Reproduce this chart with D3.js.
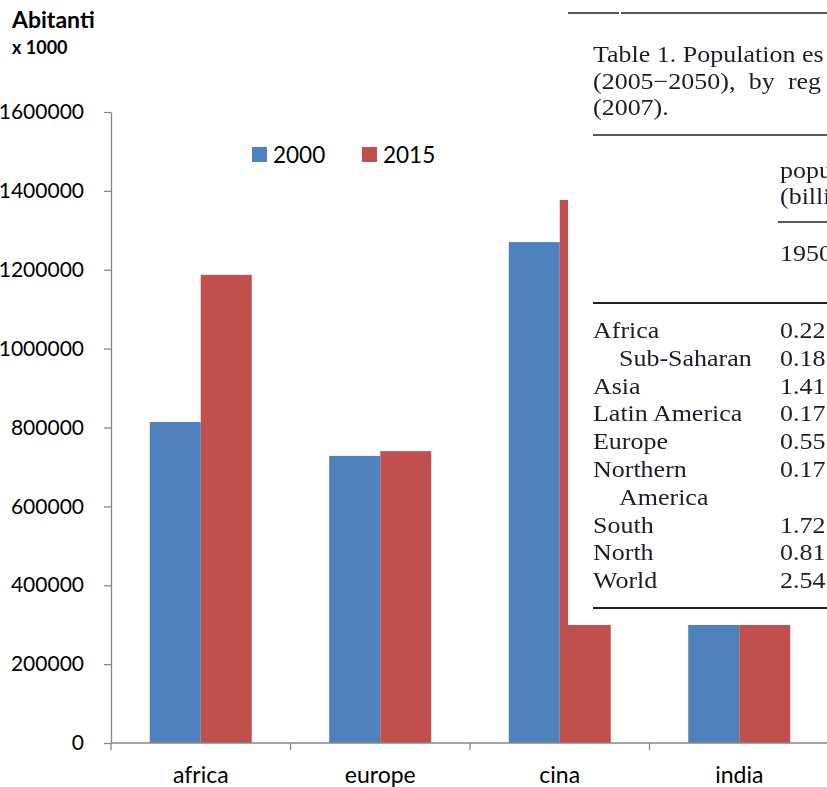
<!DOCTYPE html>
<html>
<head>
<meta charset="utf-8">
<script src="https://cdn.jsdelivr.net/npm/d3@7"></script>
<style>
  html, body { margin: 0; padding: 0; background: #fff; }
  svg { display: block; }
</style>
</head>
<body>
<svg id="chart" width="827" height="787"></svg>
<script>
// Population (thousands) by area
const categories = ["africa", "europe", "cina", "india"];
const seriesNames = ["2000", "2015"];
const values2000 = [814000, 728000, 1270000, 1053000];
const values2015 = [1187000, 740000, 1377000, 1311000];
const yTicks = [0, 200000, 400000, 600000, 800000, 1000000, 1200000, 1400000, 1600000];
const colors = ["#4F81BD", "#C0504D"];

// Pasted table excerpt
const tableCaption = ["Table 1. Population es", "(2005\u22122050), by reg", "(2007)."];
const tableHeader = ["popu", "(billi"];
const tableYear = "1950";
const tableRegions = ["Africa", "Sub-Saharan", "Asia", "Latin America", "Europe", "Northern", "America", "South", "North", "World"];
const tableIndent = [false, true, false, false, false, false, true, false, false, false];
const tableValues = ["0.22", "0.18", "1.41", "0.17", "0.55", "0.17", "", "1.72", "0.81", "2.54"];

const svg = d3.select("#chart");
const font = "Lato, 'Open Sans', sans-serif";

const x0 = d3.scaleBand().domain(categories).range([111, 829]).padding(0);
const x1 = d3.scaleBand().domain(seriesNames).range([0, x0.bandwidth()]).paddingInner(0).paddingOuter(0.76);
const y = d3.scaleLinear().domain([0, 1600000]).range([743, 112]);

// Bars
const rows = categories.map((c, i) => ({ cat: c, vals: [values2000[i], values2015[i]] }));
svg.append("g").selectAll("g").data(rows).join("g")
  .attr("transform", d => `translate(${x0(d.cat)},0)`)
  .selectAll("rect").data(d => d.vals.map((v, j) => ({ key: seriesNames[j], v, j })))
  .join("rect")
  .attr("x", d => x1(d.key))
  .attr("width", x1.bandwidth())
  .attr("y", d => y(d.v))
  .attr("height", d => y(0) - y(d.v))
  .attr("fill", d => colors[d.j]);

// Y axis
const yAxis = svg.append("g").attr("transform", "translate(111,0)")
  .call(d3.axisLeft(y).tickValues(yTicks).tickFormat(d3.format("d")).tickSize(7).tickSizeOuter(0).tickPadding(20));
yAxis.select(".domain").attr("stroke", "#868686").attr("stroke-width", 1.3);
yAxis.selectAll(".tick line").attr("stroke", "#868686").attr("stroke-width", 1.3);
yAxis.selectAll(".tick text").attr("font-family", font).attr("font-size", 21).attr("fill", "#000");

// X axis: baseline with ticks at category boundaries
const xg = svg.append("g");
xg.append("line").attr("x1", 111).attr("x2", 829).attr("y1", y(0)).attr("y2", y(0))
  .attr("stroke", "#868686").attr("stroke-width", 1.3);
xg.selectAll("line.b").data(categories.concat(["end"])).join("line").attr("class", "b")
  .attr("x1", (d, i) => 111 + i * x0.bandwidth()).attr("x2", (d, i) => 111 + i * x0.bandwidth())
  .attr("y1", y(0)).attr("y2", y(0) + 7)
  .attr("stroke", "#868686").attr("stroke-width", 1.3);
xg.selectAll("text").data(categories).join("text")
  .attr("x", d => x0(d) + x0.bandwidth() / 2)
  .attr("y", 783)
  .attr("text-anchor", "middle")
  .attr("font-family", font).attr("font-size", 23).attr("fill", "#000")
  .text(d => d);

// Axis title
svg.append("text").attr("x", 12).attr("y", 28).attr("font-family", font).attr("font-weight", "bold")
  .attr("font-size", 23).text("Abitanti");
svg.append("text").attr("x", 12).attr("y", 54).attr("font-family", font).attr("font-weight", "bold")
  .attr("font-size", 18).text("x 1000");

// Legend
const lg = svg.append("g");
const legendX = [252, 362];
seriesNames.forEach((s, i) => {
  lg.append("rect").attr("x", legendX[i]).attr("y", 147).attr("width", 15).attr("height", 15).attr("fill", colors[i]);
  lg.append("text").attr("x", legendX[i] + 21).attr("y", 163).attr("font-family", font)
    .attr("font-size", 22.5).attr("fill", "#000").text(s);
});

// Table excerpt laid over the right side
const defs = svg.append("defs");
defs.append("filter").attr("id", "soft").append("feGaussianBlur").attr("stdDeviation", 0.45);
defs.append("clipPath").attr("id", "tclip").append("rect")
  .attr("x", 568).attr("y", 0).attr("width", 259).attr("height", 625);

const tg = svg.append("g").attr("clip-path", "url(#tclip)");
tg.append("rect").attr("x", 568).attr("y", 0).attr("width", 259).attr("height", 625).attr("fill", "#fff");
const tt = tg.append("g").attr("filter", "url(#soft)");
const serif = "'Liberation Serif', 'DejaVu Serif', serif";
const ink = "#1c1c2e";
const tSize = 23;
const stretch = 1.13;

// serif text, widened slightly, anchored at (x, y)
function tText(sel, x, y, s, wordSpacing) {
  sel.append("text")
    .attr("transform", `translate(${x},${y}) scale(${stretch},1)`)
    .attr("font-family", serif).attr("font-size", tSize).attr("fill", ink)
    .attr("word-spacing", wordSpacing || 0)
    .text(s);
}
function rule(sel, x1, x2, yy, w) {
  sel.append("line").attr("x1", x1).attr("x2", x2).attr("y1", yy).attr("y2", yy)
    .attr("stroke", "#222").attr("stroke-width", w);
}

rule(tt, 568, 619, 13, 1.6);
rule(tt, 621, 827, 13, 1.6);

tableCaption.forEach((s, i) => tText(tt, 593, 62 + i * 26.5, s, i === 1 ? 6 : 0));
rule(tt, 593, 827, 135, 1.6);

tableHeader.forEach((s, i) => tText(tt, 780, 178 + i * 26, s));
rule(tt, 778, 827, 222, 1.4);
tText(tt, 780, 261, tableYear);
rule(tt, 593, 827, 303, 1.8);

const rowY = i => 338 + i * 27.8;
tableRegions.forEach((s, i) => tText(tt, tableIndent[i] ? 619 : 593, rowY(i), s));
tableValues.forEach((s, i) => { if (s) tText(tt, 780, rowY(i), s); });
rule(tt, 593, 827, 608, 1.8);
</script>
</body>
</html>
